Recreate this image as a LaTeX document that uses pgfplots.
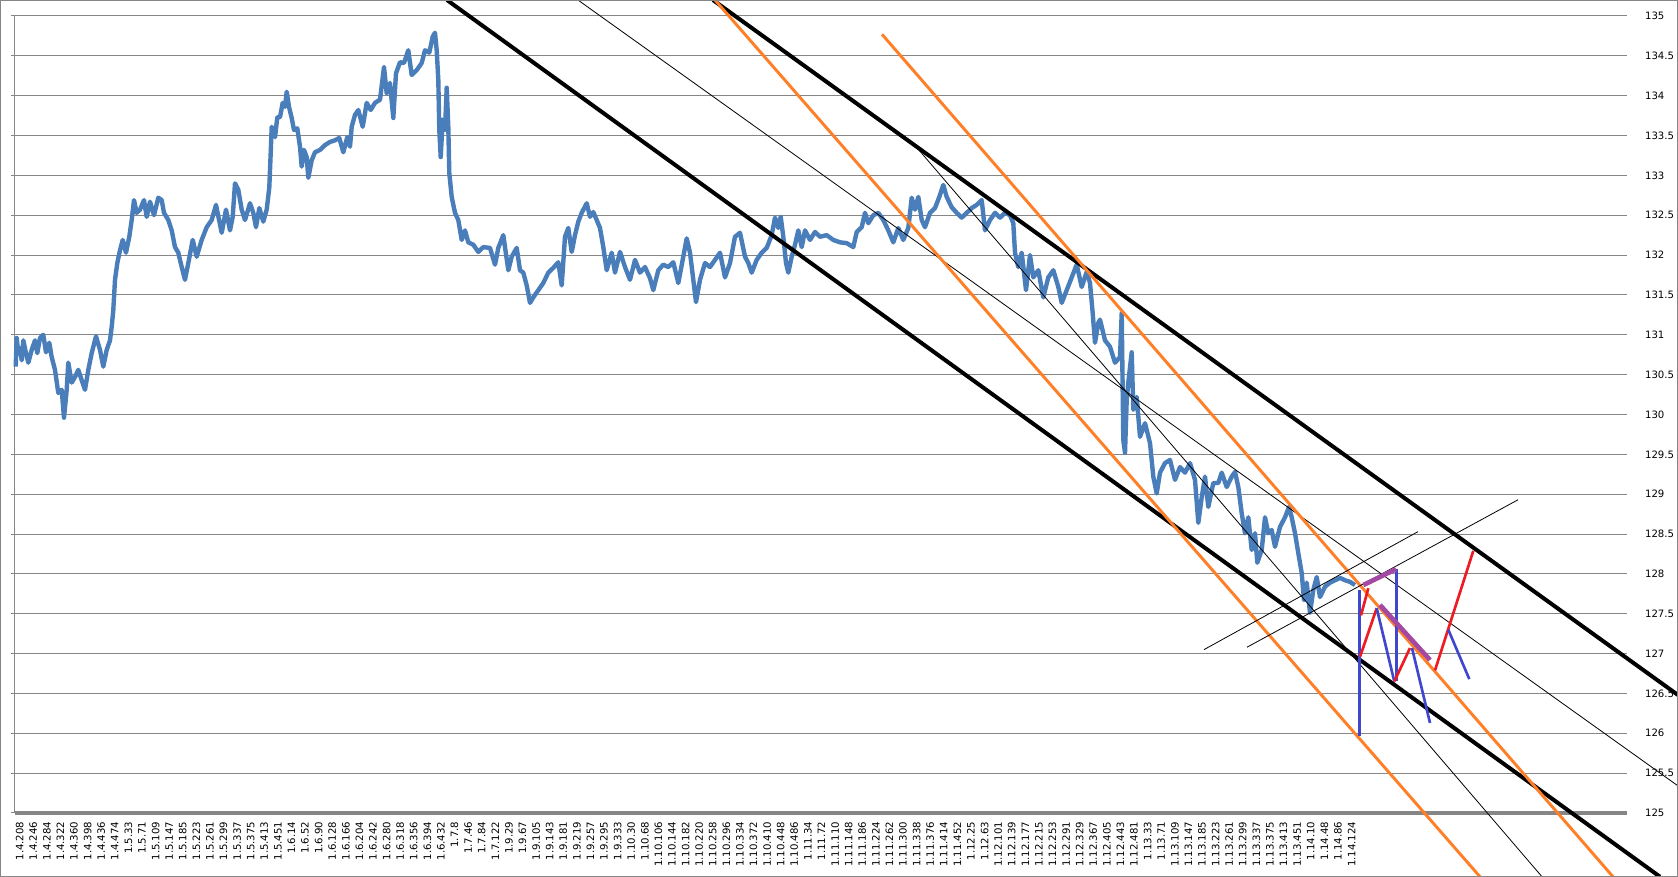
\documentclass[border=0pt]{standalone}
\usepackage{fontspec}
\setmainfont{DejaVu Sans}
\usepackage{pgfplots}
\pgfplotsset{compat=1.18}
\definecolor{pblue}{RGB}{74,126,187}
\definecolor{zblue}{RGB}{63,72,204}
\definecolor{zred}{RGB}{237,28,36}
\definecolor{zpurple}{RGB}{163,73,164}
\definecolor{zorange}{RGB}{255,127,39}
\definecolor{gridgray}{RGB}{134,134,134}
\begin{document}
\begin{tikzpicture}
\useasboundingbox (-11.25pt,-48pt) rectangle (1247.25pt,609.75pt);
\clip (-11.25pt,-48pt) rectangle (1247.25pt,609.75pt);
\begin{axis}[
  scale only axis, width=1209pt, height=597.75pt,
  xmin=-1, xmax=1611, ymin=125, ymax=135,
  clip=false,
  axis line style={draw=none},
  xtick={0,13.59,...,1332},
  xticklabels={1.4.208,1.4.246,1.4.284,1.4.322,1.4.360,1.4.398,1.4.436,1.4.474,1.5.33,1.5.71,1.5.109,1.5.147,1.5.185,1.5.223,1.5.261,1.5.299,1.5.337,1.5.375,1.5.413,1.5.451,1.6.14,1.6.52,1.6.90,1.6.128,1.6.166,1.6.204,1.6.242,1.6.280,1.6.318,1.6.356,1.6.394,1.6.432,1.7.8,1.7.46,1.7.84,1.7.122,1.9.29,1.9.67,1.9.105,1.9.143,1.9.181,1.9.219,1.9.257,1.9.295,1.9.333,1.10.30,1.10.68,1.10.106,1.10.144,1.10.182,1.10.220,1.10.258,1.10.296,1.10.334,1.10.372,1.10.410,1.10.448,1.10.486,1.11.34,1.11.72,1.11.110,1.11.148,1.11.186,1.11.224,1.11.262,1.11.300,1.11.338,1.11.376,1.11.414,1.11.452,1.12.25,1.12.63,1.12.101,1.12.139,1.12.177,1.12.215,1.12.253,1.12.291,1.12.329,1.12.367,1.12.405,1.12.443,1.12.481,1.13.33,1.13.71,1.13.109,1.13.147,1.13.185,1.13.223,1.13.261,1.13.299,1.13.337,1.13.375,1.13.413,1.13.451,1.14.10,1.14.48,1.14.86,1.14.124},
  every major x tick/.append style={draw=none},
  every x tick/.append style={draw=none},
  xtick pos=bottom,
  xticklabel style={rotate=90, anchor=east, yshift=-2.75pt},
  ytick={125,125.5,126,126.5,127,127.5,128,128.5,129,129.5,130,130.5,131,131.5,132,132.5,133,133.5,134,134.5,135},
  yticklabels={125,125.5,126,126.5,127,127.5,128,128.5,129,129.5,130,130.5,131,131.5,132,132.5,133,133.5,134,134.5,135},
  ytick pos=left, yticklabel pos=right,
  tick align=outside, major tick length=3pt,
  tick style={gridgray, line width=0.75pt},
  yticklabel style={anchor=west, xshift=7pt},
  ymajorgrids, grid style={gridgray, line width=0.75pt},
  tick label style={font=\fontsize{7.6}{9}\selectfont, black},
]
\draw[gridgray, line width=0.75pt] (rel axis cs:0,0) -- (rel axis cs:0,1);
\draw[gridgray, line width=3.4pt] (rel axis cs:0,0) -- (rel axis cs:1,0);
% price
\addplot[pblue, line width=3.3pt, line join=round] coordinates {
(-0.3,130.60) (0.7,130.96) (2.3,130.77) (4,130.83) (5.7,130.68) (7.3,130.93) (10,130.77) (12.3,130.65) (15.7,130.81) (19,130.93) (21.3,130.77) (24,130.96) (27.3,131.00) (30,130.78) (33.3,130.90) (35.7,130.72) (39,130.56) (42.3,130.27) (45.7,130.31) (48,129.96) (50.7,130.31) (52.3,130.65) (55.7,130.40) (59,130.47) (62.3,130.56) (65.7,130.43) (69,130.31) (72.3,130.56) (75.7,130.77) (80,130.98) (84,130.81) (87.3,130.60) (90.7,130.81) (94,130.93) (95.7,131.10) (97.3,131.31) (99,131.69) (101.3,131.90) (104,132.06) (106.7,132.19) (110,132.03) (113.3,132.23) (115.7,132.44) (118,132.69) (120.7,132.53) (124,132.57) (128,132.69) (130.7,132.48) (134,132.67) (138,132.50) (142.3,132.72) (145.7,132.69) (148,132.53) (152.3,132.44) (155.7,132.31) (159,132.10) (162.3,132.03) (165.7,131.85) (169,131.69) (172.3,131.90) (176.7,132.19) (180.7,131.98) (185.7,132.19) (190.7,132.35) (195.7,132.44) (200,132.63) (205.7,132.28) (210,132.57) (214,132.31)
(216.7,132.48) (219,132.90) (222.3,132.82) (225.7,132.57) (229,132.44) (234,132.65) (237.3,132.53) (240,132.35) (243.3,132.59) (247.3,132.42) (250.7,132.57) (253.3,132.85) (254.7,133.28) (255.7,133.61) (259,133.48) (261.3,133.73) (264,133.73) (266.7,133.91) (269,133.86) (270.7,134.05) (273,133.86) (275.7,133.72) (278,133.57) (281.3,133.59) (284,133.36) (285.7,133.11) (288,133.32) (290.7,133.23) (292.3,132.97) (295.7,133.19) (299,133.29) (304,133.32) (309,133.38) (314,133.42) (319,133.44) (323.3,133.47) (327.3,133.29) (331.3,133.48) (334,133.36) (335.7,133.61) (339,133.76) (342.3,133.82) (346.7,133.61) (350.7,133.91) (354.7,133.82) (359,133.91) (364,133.95) (368,134.36) (370.7,134.03) (374,134.16) (377.3,133.72) (380,134.28) (384,134.42) (388,134.41) (392.3,134.57) (395.7,134.26) (400.7,134.32) (405.7,134.41) (409,134.57) (413.3,134.54) (416.7,134.74) (419,134.79) (420.7,134.57) (422.3,134.20) (423.3,133.57) (424.7,133.23) (426.7,133.70) (429,133.57) (430.7,134.10) (432.3,133.61) (433.3,133.03) (435.7,132.73) (439,132.53) (442.3,132.44)
(445.7,132.19) (449,132.31) (452.3,132.16) (457.3,132.13) (462.3,132.04) (467.3,132.10) (474,132.09) (479,131.88) (482.3,132.09) (487.3,132.25) (492.3,131.81) (495.7,131.98) (500.7,132.09) (504,131.81) (507.3,131.78) (510.7,131.62) (514,131.40) (517.3,131.47) (522.3,131.56) (527.3,131.65) (532.3,131.78) (537.3,131.84) (542.3,131.91) (545.7,131.62) (549,132.23) (552.3,132.34) (555.7,132.04) (559,132.25) (562.3,132.42) (565.7,132.53) (570.7,132.65) (574,132.48) (577.3,132.54) (580.7,132.44) (584,132.34) (587.3,132.10) (590.7,131.81) (595.7,132.03) (599,131.78) (604,132.04) (609,131.85) (614,131.69) (619,131.94) (624,131.78) (629,131.85) (634,131.71) (637.3,131.56) (642.3,131.81) (647.3,131.88) (652.3,131.85) (657.3,131.91) (662.3,131.65) (667.3,131.98) (670.7,132.21) (674,132.03) (677.3,131.69) (680,131.41) (684,131.69) (689,131.90) (694,131.85) (699,131.94) (704,132.03) (709,131.72) (714,131.90) (719,132.23) (724,132.28) (729,131.98) (732.3,131.90) (735.7,131.78) (740.7,131.94) (745.7,132.03) (750.7,132.09) (755.7,132.25) (759,132.47) (762.3,132.34) (764.7,132.48) (767.3,132.23) (770,131.90) (772.3,131.78) (775.7,131.98) (779,132.13) (782.3,132.31) (785.7,132.10) (789,132.31) (794,132.19) (799,132.29) (804,132.23) (810.7,132.25) (817.3,132.19) (824,132.16) (830.7,132.15) (837.3,132.10)
(840.7,132.29) (845.7,132.35) (849,132.53) (852.3,132.40) (857.3,132.50) (862.3,132.53) (867.3,132.44) (872.3,132.31) (877.3,132.16) (882.3,132.34) (887.3,132.19) (892.3,132.34) (895.7,132.72) (899,132.57) (902.3,132.73) (905.7,132.44) (909,132.35) (914,132.53) (919,132.59) (923.3,132.73) (927.3,132.88) (930.7,132.73) (935.7,132.60) (940.7,132.53) (945.7,132.47) (950.7,132.53) (955.7,132.59) (960.7,132.63) (965.7,132.69) (969,132.31) (974,132.44) (979,132.53) (984,132.47) (989,132.53) (994,132.50) (997.3,132.40) (999,132.03) (1002.3,131.85) (1005.7,132.03) (1010,131.56) (1014,132.00) (1017.3,131.72) (1022.3,131.81) (1027.3,131.47) (1032.3,131.72) (1037.3,131.81) (1042.3,131.60) (1045.7,131.40) (1050.7,131.56) (1055.7,131.72) (1060.7,131.88) (1065.7,131.60) (1070.7,131.79) (1074,131.65) (1076.7,131.27) (1079,130.90) (1082.3,131.15)
(1084,131.19) (1089,130.93) (1094,130.85) (1099,130.65) (1104,130.72) (1105.7,131.27) (1107.3,129.68) (1109,129.52) (1110.7,130.18) (1112.3,130.40) (1115.7,130.78) (1117.3,130.06) (1120.7,130.22) (1124,129.72) (1129,129.89) (1134,129.64) (1137.3,129.22) (1140.7,129.01) (1144,129.27) (1149,129.39) (1154,129.43) (1159,129.18) (1164,129.34) (1169,129.27) (1174,129.39) (1179,129.18) (1182.3,128.64) (1185.7,128.96) (1189,129.22) (1192.3,128.84) (1197.3,129.14) (1202.3,129.14) (1205.7,129.27) (1210.7,129.09) (1215.7,129.22) (1219,129.28) (1222.3,129.09) (1225.7,128.76) (1229,128.51) (1232.3,128.71) (1235.7,128.30) (1239,128.51) (1241.3,128.14) (1245.7,128.30) (1249,128.71) (1252.3,128.51) (1255.7,128.55) (1259,128.34) (1264,128.59) (1269,128.71) (1273,128.84) (1275.7,128.71) (1279,128.51) (1282.3,128.26) (1285.7,128.01) (1288,127.67) (1290.7,127.89) (1294,127.51) (1297.3,127.80) (1300.7,127.96) (1304,127.71) (1309,127.84) (1314,127.89) (1319,127.92) (1324,127.95) (1329,127.92) (1334,127.90) (1339,127.86)
};
% channel lines
\addplot[black, line width=3pt] coordinates {(697,135.20) (1662,126.48)};
\addplot[black, line width=3pt] coordinates {(431,135.20) (1644,124.20)};
\addplot[black, line width=0.6pt] coordinates {(562,135.20) (1662,125.34)};
\addplot[black, line width=0.6pt] coordinates {(898,133.39) (1526,124.20)};
\addplot[zorange, line width=2.2pt] coordinates {(699,135.20) (1464,124.20)};
\addplot[zorange, line width=2.2pt] coordinates {(866,134.77) (1597,124.20)};
\addplot[black, line width=0.6pt] coordinates {(1188,127.05) (1402,128.53)};
\addplot[black, line width=0.6pt] coordinates {(1231,127.08) (1502,128.93)};
% zigzags
\addplot[zblue, line width=2pt] coordinates {(1343.3,127.80) (1343.3,125.97)};
\addplot[zblue, line width=2pt] coordinates {(1380.7,128.06) (1380.7,126.65)};
\addplot[zred, line width=2pt] coordinates {(1345,127.48) (1352.3,127.82)};
\addplot[zred, line width=2pt] coordinates {(1344,126.96) (1360.7,127.57)};
\addplot[zblue, line width=2pt] coordinates {(1360.7,127.57) (1378.3,126.65)};
\addplot[zred, line width=2pt] coordinates {(1378.3,126.65) (1394,127.07)};
\addplot[zblue, line width=2pt] coordinates {(1396,127.07) (1414,126.13)};
\addplot[zred, line width=2pt] coordinates {(1419,126.79) (1457.3,128.29)};
\addplot[zblue, line width=2pt] coordinates {(1432.3,127.30) (1453.3,126.68)};
\addplot[zpurple, line width=3.5pt] coordinates {(1347.3,127.86) (1380,128.06)};
\addplot[zpurple, line width=3.5pt] coordinates {(1364,127.61) (1414,126.92)};
\end{axis}
\draw[gridgray, line width=0.75pt] (-10.875pt,-47.625pt) rectangle (1246.875pt,609.375pt);
\end{tikzpicture}
\end{document}
